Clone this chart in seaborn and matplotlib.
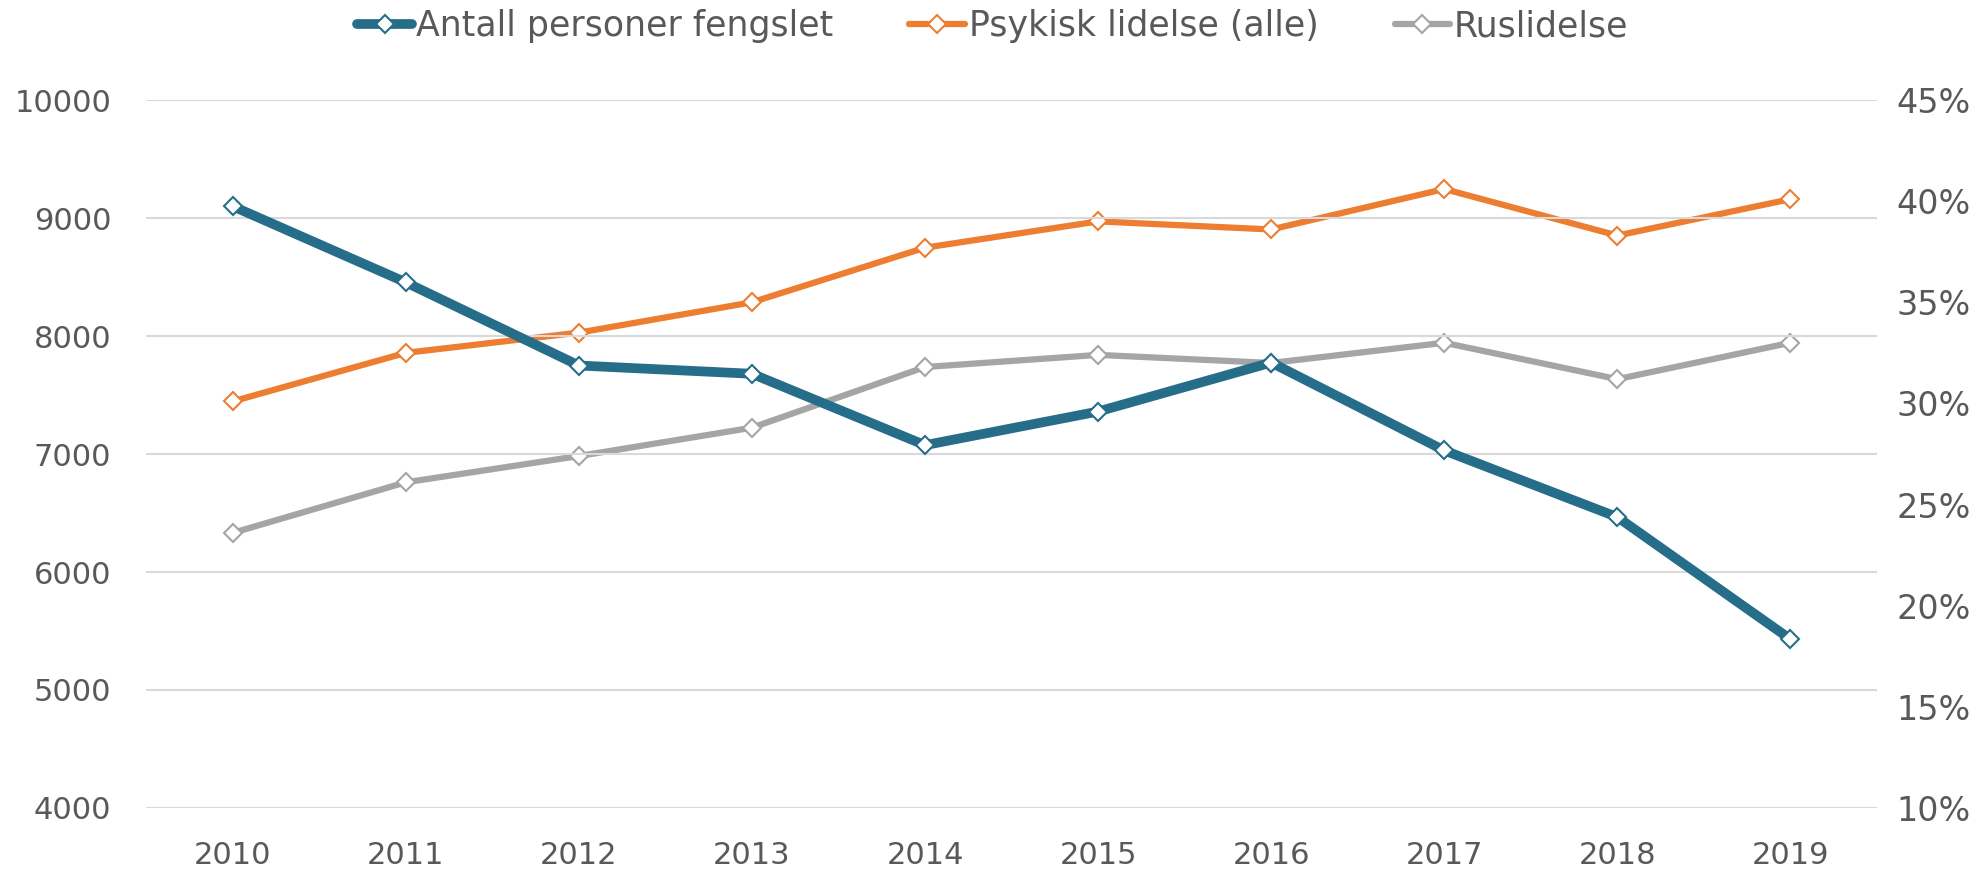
import numpy as np
import pandas as pd
import seaborn as sns
import matplotlib.pyplot as plt
from matplotlib.ticker import PercentFormatter

years = [2010, 2011, 2012, 2013, 2014, 2015, 2016, 2017, 2018, 2019]
fengslet = [9100, 8455, 7750, 7680, 7075, 7360, 7775, 7030, 6465, 5430]
psykisk = [30.1, 32.5, 33.5, 35.0, 37.7, 39.0, 38.6, 40.6, 38.3, 40.1]
rus = [23.6, 26.1, 27.4, 28.8, 31.8, 32.4, 32.0, 33.0, 31.2, 33.0]

labels = ['Antall personer fengslet', 'Psykisk lidelse (alle)', 'Ruslidelse']
colors = ['#266D8A', '#ED7D31', '#A5A5A5']
text_color = '#595959'
grid_color = '#D9D9D9'

sns.set_style('white')
plt.rcParams['font.family'] = ['DejaVu Sans']

df = pd.DataFrame({'year': years, 'fengslet': fengslet,
                   'psykisk': np.array(psykisk) / 100, 'rus': np.array(rus) / 100})

fig = plt.figure(figsize=(19.85, 8.72), dpi=100)
ax = fig.add_axes([0.0736, 0.0734, 0.872, 0.8119])
ax2 = ax.twinx()

marker_kw = dict(marker='D', markersize=9.5, markerfacecolor='white', markeredgewidth=1.5)

sns.lineplot(data=df, x='year', y='psykisk', ax=ax2, color=colors[1], linewidth=4.5,
             markeredgecolor=colors[1], label=labels[1], legend=False, **marker_kw)
sns.lineplot(data=df, x='year', y='rus', ax=ax2, color=colors[2], linewidth=4.5,
             markeredgecolor=colors[2], label=labels[2], legend=False, **marker_kw)
sns.lineplot(data=df, x='year', y='fengslet', ax=ax, color=colors[0], linewidth=7,
             markeredgecolor=colors[0], label=labels[0], legend=False, **marker_kw)

# blue series on the left axis, drawn on top
ax.set_zorder(ax2.get_zorder() + 1)
ax.patch.set_visible(False)

ax.set_xlim(2009.5, 2019.5)
ax.set_ylim(4000, 10000)
ax.set_yticks(range(4000, 10001, 1000))
ax2.set_ylim(0.10, 0.45)
ax2.set_yticks(np.arange(0.10, 0.451, 0.05))
ax2.yaxis.set_major_formatter(PercentFormatter(1.0, decimals=0))
ax.set_xticks(years)
ax.set_xticklabels([str(y) for y in years], fontsize=22)

ax.grid(axis='y', color=grid_color, linewidth=1.5)
ax.set_axisbelow(True)
for a in (ax, ax2):
    for s in a.spines.values():
        s.set_visible(False)
    a.set_xlabel('')
    a.set_ylabel('')

ax.tick_params(axis='x', length=0, pad=24, colors=text_color)
ax.tick_params(axis='y', length=0, pad=25, labelsize=22, colors=text_color)
ax2.tick_params(axis='y', length=0, pad=14, labelsize=24, colors=text_color)

h1, l1 = ax.get_legend_handles_labels()
h2, l2 = ax2.get_legend_handles_labels()
fig.legend(h1 + h2, l1 + l2, loc='upper center', bbox_to_anchor=(0.5, 1.025), ncol=3,
           frameon=False, handlelength=1.6, columnspacing=2.2, handletextpad=0.1,
           prop={'size': 25}, labelcolor=text_color)

fig.savefig('out.png', dpi=100)
